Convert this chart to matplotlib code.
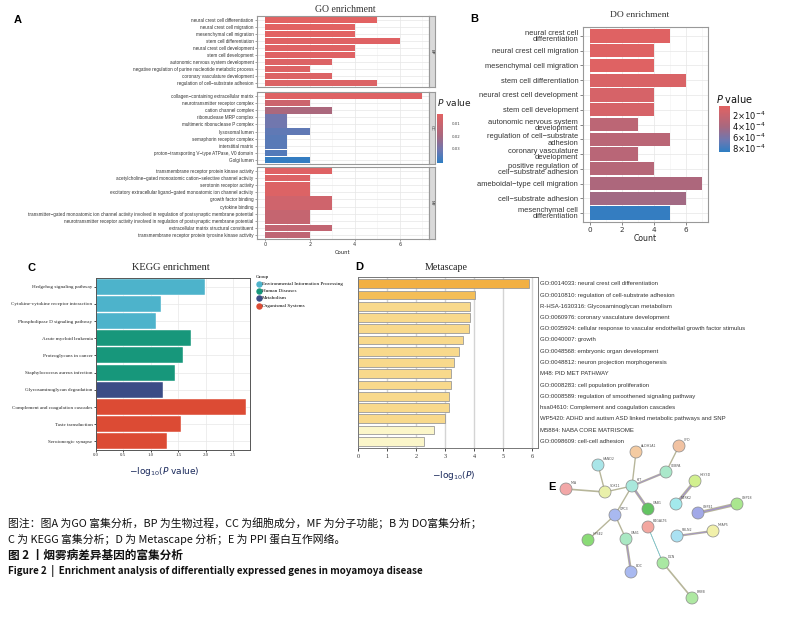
import numpy as np
import matplotlib
matplotlib.use("Agg")
import matplotlib.pyplot as plt
from matplotlib.colors import LinearSegmentedColormap, Normalize
from matplotlib.cm import ScalarMappable

# ---------------- data ----------------
go_bp_terms = ["neural crest cell differentiation", "neural crest cell migration",
               "mesenchymal cell migration", "stem cell differentiation",
               "neural crest cell development", "stem cell development",
               "autonomic nervous system development",
               "negative regulation of purine nucleotide metabolic process",
               "coronary vasculature development", "regulation of cell\u2212substrate adhesion"]
go_bp_count = [5, 4, 4, 6, 4, 4, 3, 2, 3, 5]
go_bp_p = [0.002, 0.002, 0.002, 0.003, 0.003, 0.003, 0.004, 0.004, 0.004, 0.004]

go_cc_terms = ["collagen\u2212containing extracellular matrix", "neurotransmitter receptor complex",
               "cation channel complex", "ribonuclease MRP complex",
               "multimeric ribonuclease P complex", "lysosomal lumen",
               "semaphorin receptor complex", "interstitial matrix",
               "proton\u2212transporting V\u2212type ATPase, V0 domain", "Golgi lumen"]
go_cc_count = [7, 2, 3, 1, 1, 2, 1, 1, 1, 2]
go_cc_p = [0.003, 0.009, 0.019, 0.031, 0.031, 0.034, 0.035, 0.035, 0.036, 0.041]

go_mf_terms = ["transmembrane receptor protein kinase activity",
               "acetylcholine\u2212gated monoatomic cation\u2212selective channel activity",
               "serotonin receptor activity",
               "excitatory extracellular ligand\u2212gated monoatomic ion channel activity",
               "growth factor binding", "cytokine binding",
               "transmitter\u2212gated monoatomic ion channel activity involved in regulation of postsynaptic membrane potential",
               "neurotransmitter receptor activity involved in regulation of postsynaptic membrane potential",
               "extracellular matrix structural constituent",
               "transmembrane receptor protein tyrosine kinase activity"]
go_mf_count = [3, 2, 2, 2, 3, 3, 2, 2, 3, 2]
go_mf_p = [0.003, 0.004, 0.004, 0.004, 0.008, 0.008, 0.011, 0.011, 0.012, 0.013]

do_terms = ["neural crest cell\ndifferentiation", "neural crest cell migration",
            "mesenchymal cell migration", "stem cell differentiation",
            "neural crest cell development", "stem cell development",
            "autonomic nervous system\ndevelopment", "regulation of cell\u2212substrate\nadhesion",
            "coronary vasculature\ndevelopment", "positive regulation of\ncell\u2212substrate adhesion",
            "ameboidal\u2212type cell migration", "cell\u2212substrate adhesion",
            "mesenchymal cell\ndifferentiation"]
do_count = [5, 4, 4, 6, 4, 4, 3, 5, 3, 4, 7, 6, 5]
do_p = [0.6e-4, 0.6e-4, 0.6e-4, 1.0e-4, 1.2e-4, 1.2e-4, 2.9e-4, 3.0e-4, 3.1e-4, 3.3e-4,
        3.8e-4, 4.4e-4, 8.5e-4]

kegg_terms = ["Hedgehog signaling pathway", "Cytokine-cytokine receptor interaction",
              "Phospholipase D signaling pathway", "Acute myeloid leukemia",
              "Proteoglycans in cancer", "Staphylococcus aureus infection",
              "Glycosaminoglycan degradation", "Complement and coagulation cascades",
              "Taste transduction", "Serotonergic synapse"]
kegg_value = [1.98, 1.19, 1.10, 1.73, 1.59, 1.44, 1.23, 2.73, 1.55, 1.30]
kegg_group = ["Environmental Information Processing"] * 3 + ["Human Diseases"] * 3 + \
             ["Metabolism"] + ["Organismal Systems"] * 3
kegg_groups = ["Environmental Information Processing", "Human Diseases", "Metabolism",
               "Organismal Systems"]
kegg_colors = ["#4DB3CB", "#17977B", "#3B4C86", "#DC4B34"]

meta_terms = ["GO:0014033: neural crest cell differentiation",
              "GO:0010810: regulation of cell-substrate adhesion",
              "R-HSA-1630316: Glycosaminoglycan metabolism",
              "GO:0060976: coronary vasculature development",
              "GO:0035924: cellular response to vascular endothelial growth factor stimulus",
              "GO:0040007: growth",
              "GO:0048568: embryonic organ development",
              "GO:0048812: neuron projection morphogenesis",
              "M48: PID MET PATHWAY",
              "GO:0008283: cell population proliferation",
              "GO:0008589: regulation of smoothened signaling pathway",
              "hsa04610: Complement and coagulation cascades",
              "WP5420: ADHD and autism ASD linked metabolic pathways and SNP",
              "M5884: NABA CORE MATRISOME",
              "GO:0098609: cell-cell adhesion"]
meta_value = [5.90, 4.02, 3.87, 3.87, 3.84, 3.62, 3.49, 3.31, 3.22, 3.21, 3.13, 3.12, 3.01,
              2.61, 2.29]
meta_colors = ["#F2B043", "#F4BE57"] + ["#F8D98C"] * 11 + ["#FBF6C9"] * 2

ppi_nodes = ["MIA", "HAND2", "SOX11", "KIT", "ALDH1A1", "CFD", "CEBPA", "GAB1", "GPC3",
             "HPSE2", "GAS1", "BOC", "B4GALT6", "DCN", "ERBB", "HEY3D", "NTRK2", "USP41",
             "USP18", "FBLN2", "MFAP5"]
ppi_x = [566, 598, 605, 632, 636, 679, 666, 648, 615, 588, 626, 631, 648, 663, 692, 695,
         676, 698, 737, 677, 713]
ppi_y = [489, 465, 492, 486, 452, 446, 472, 509, 515, 540, 539, 572, 527, 563, 598, 481,
         504, 513, 504, 536, 531]
ppi_colors = ["#F2A7A7", "#A9E5E8", "#E9F0AA", "#A9E8DC", "#F4CBA2", "#F1C2A2", "#AAE8CA",
              "#63C462", "#A9B9F0", "#8ADB76", "#AAE8C3", "#A9B9F0", "#F3A7A0", "#A9E8A2",
              "#AEE8A2", "#D2F08F", "#A3E9EC", "#A2A9E8", "#AAE78F", "#AAE1F2", "#F1F0AA"]
ppi_edges = [("MIA", "SOX11", 1.2), ("HAND2", "SOX11", 1.0), ("SOX11", "KIT", 1.0),
             ("ALDH1A1", "KIT", 1.0), ("KIT", "CEBPA", 1.6), ("CEBPA", "CFD", 1.0),
             ("KIT", "GAB1", 2.0), ("KIT", "GPC3", 1.0), ("GPC3", "HPSE2", 1.0),
             ("GPC3", "GAS1", 1.0), ("GAS1", "BOC", 1.8), ("B4GALT6", "DCN", 0.5),
             ("DCN", "ERBB", 1.2), ("HEY3D", "NTRK2", 2.2), ("USP41", "USP18", 2.4),
             ("FBLN2", "MFAP5", 1.6)]

# ---------------- figure ----------------
W, H = 791, 617
fig = plt.figure(figsize=(W / 100, H / 100), dpi=100)
fig.patch.set_facecolor("white")
cjk = ["Noto Sans CJK SC", "DejaVu Sans"]


def px_axes(x0, y0, x1, y1):
    return fig.add_axes([x0 / W, 1 - y1 / H, (x1 - x0) / W, (y1 - y0) / H])


def ftext(x, y, s, **kw):
    return fig.text(x / W, 1 - y / H, s, **kw)


pcmap = LinearSegmentedColormap.from_list(
    "pv", [(0, "#E26262"), (0.45, "#A8687F"), (0.75, "#6C78B2"), (1, "#2E7EC3")])

# ---------------- A: GO ----------------
go_norm = Normalize(0.002, 0.042)
facets = [("BP", go_bp_terms, go_bp_count, go_bp_p, 16, 87),
          ("CC", go_cc_terms, go_cc_count, go_cc_p, 92, 164),
          ("MF", go_mf_terms, go_mf_count, go_mf_p, 167, 239)]
for name, terms, counts, pvals, y0, y1 in facets:
    ax = px_axes(257, y0, 429, y1)
    ypos = np.arange(len(terms))[::-1]
    ax.barh(ypos, counts, height=0.9, color=pcmap(go_norm(pvals)), zorder=2)
    ax.set_xlim(-0.35, 7.3)
    ax.set_ylim(-0.6, len(terms) - 0.4)
    ax.set_yticks(ypos)
    ax.set_yticklabels(terms, fontsize=3.3, family="Liberation Sans", color="#333333")
    ax.set_xticks([0, 2, 4, 6])
    ax.set_xticks([1, 3, 5, 7], minor=True)
    ax.grid(True, which="major", color="#E6E6E6", lw=0.5)
    ax.grid(True, which="minor", axis="x", color="#F2F2F2", lw=0.4)
    ax.set_axisbelow(True)
    ax.tick_params(length=1.5, width=0.4, color="#555555", pad=1)
    ax.tick_params(which="minor", length=0)
    for s in ax.spines.values():
        s.set_color("#999999")
        s.set_linewidth(0.8)
    if name == "MF":
        ax.set_xticklabels(["0", "2", "4", "6"], fontsize=3.5, color="#333333")
        ax.set_xlabel("Count", fontsize=3.8, labelpad=2, color="#222222")
    else:
        ax.set_xticklabels([])
        ax.tick_params(axis="x", length=0)
    sax = px_axes(429, y0, 435, y1)
    sax.set_facecolor("#D9D9D9")
    sax.set_xticks([])
    sax.set_yticks([])
    for s in sax.spines.values():
        s.set_color("#999999")
        s.set_linewidth(0.8)
    sax.text(0.5, 0.5, name, rotation=-90, fontsize=3.0, ha="center", va="center",
             color="#333333", transform=sax.transAxes)

ftext(345, 9, "GO enrichment", fontsize=7, family="Liberation Serif", ha="center",
      va="center", color="#333333")
cax = px_axes(437, 114, 443, 163)
cb = fig.colorbar(ScalarMappable(norm=go_norm, cmap=pcmap), cax=cax)
cb.outline.set_visible(False)
cax.invert_yaxis()
cb.set_ticks([0.01, 0.02, 0.03])
cb.set_ticklabels(["0.01", "0.02", "0.03"])
cax.tick_params(labelsize=2.8, length=0, pad=6, colors="#444444")
ftext(437, 103, r"$P$ value", fontsize=6.5, va="center", color="#222222")

# ---------------- B: DO ----------------
do_norm = Normalize(0.43e-4, 8.7e-4)
ax = px_axes(583, 27, 708, 222)
ypos = np.arange(len(do_terms))[::-1]
ax.barh(ypos, do_count, height=0.9, color=pcmap(do_norm(do_p)), zorder=2)
ax.set_xlim(-0.44, 7.37)
ax.set_ylim(-0.6, len(do_terms) - 0.4)
ax.set_yticks(ypos)
ax.set_yticklabels(do_terms, fontsize=5.4, family="Liberation Sans", color="#333333",
                   linespacing=0.85)
ax.set_xticks([0, 2, 4, 6])
ax.set_xticks([1, 3, 5, 7], minor=True)
ax.set_xticklabels(["0", "2", "4", "6"], fontsize=5.2, color="#333333")
ax.grid(True, which="major", color="#E6E6E6", lw=0.5)
ax.grid(True, which="minor", axis="x", color="#F2F2F2", lw=0.4)
ax.set_axisbelow(True)
ax.tick_params(length=2, width=0.5, color="#555555", pad=1.5)
ax.tick_params(which="minor", length=0)
for s in ax.spines.values():
    s.set_color("#999999")
    s.set_linewidth(0.8)
ax.set_xlabel("Count", fontsize=5.6, labelpad=1, color="#222222")
ftext(640, 15, "DO enrichment", fontsize=6.8, family="Liberation Serif", ha="center",
      va="center", color="#333333")
cax = px_axes(719, 106, 730, 152)
cb = fig.colorbar(ScalarMappable(norm=do_norm, cmap=pcmap), cax=cax)
cb.outline.set_visible(False)
cax.invert_yaxis()
cb.set_ticks([2e-4, 4e-4, 6e-4, 8e-4])
cb.set_ticklabels([r"2$\times$10$^{-4}$", r"4$\times$10$^{-4}$", r"6$\times$10$^{-4}$",
                   r"8$\times$10$^{-4}$"])
cax.tick_params(labelsize=6, length=0, pad=1.5, colors="#111111")
ftext(716, 99, r"$P$ value", fontsize=7, va="center", color="#111111")

# ---------------- C: KEGG ----------------
ax = px_axes(96, 278, 250, 450)
ypos = np.arange(len(kegg_terms))[::-1]
kcol = [kegg_colors[kegg_groups.index(g)] for g in kegg_group]
ax.barh(ypos, kegg_value, height=0.92, color=kcol, edgecolor="white", lw=0.3, zorder=2)
ax.set_xlim(0, 2.81)
ax.set_ylim(-0.5, len(kegg_terms) - 0.5)
ax.set_yticks(ypos)
ax.set_yticklabels(kegg_terms, fontsize=3.7, family="Liberation Serif", color="#222222")
ax.set_xticks([0, 0.5, 1.0, 1.5, 2.0, 2.5])
ax.set_xticklabels(["0.0", "0.5", "1.0", "1.5", "2.0", "2.5"], fontsize=3.5,
                   family="Liberation Serif", color="#333333")
ax.grid(True, color="#E8E8E8", lw=0.5)
ax.set_axisbelow(True)
ax.tick_params(length=1.5, width=0.5, pad=1)
for s in ax.spines.values():
    s.set_color("#555555")
    s.set_linewidth(0.7)
ftext(171, 268, "KEGG enrichment", fontsize=7.5, family="Liberation Serif", ha="center",
      va="center", color="#222222")
ftext(256, 277, "Group", fontsize=3.7, family="Liberation Serif", va="center")
for i, g in enumerate(kegg_groups):
    yy = 284 + i * 7.2
    fig.lines.append(plt.Line2D([258.5 / W], [1 - yy / H], marker="o", ms=3.6, lw=0,
                                color=kegg_colors[i], transform=fig.transFigure))
    ftext(262, yy, g, fontsize=3.7, family="Liberation Serif", va="center")
ftext(164, 472, r"$-$log$_{10}$($P$ value)", fontsize=6.5, ha="center", va="center",
      color="#1B2A5C")

# ---------------- D: Metascape ----------------
ax = px_axes(358, 277, 538, 448)
ypos = np.arange(len(meta_terms))[::-1]
ax.barh(ypos, meta_value, height=0.78, color=meta_colors, edgecolor="#9A9A9A", lw=0.6,
        zorder=2)
ax.set_xlim(0, 6.2)
ax.set_ylim(-0.6, len(meta_terms) - 0.4)
ax.set_yticks([])
ax.set_xticks(range(7))
ax.set_xticklabels([str(i) for i in range(7)], fontsize=4.5, family="Liberation Serif",
                   color="#333333")
ax.grid(True, axis="x", color="#D4D4D4", lw=1.0)
ax.set_axisbelow(True)
ax.tick_params(length=2, width=0.5, pad=2)
for s in ax.spines.values():
    s.set_color("#777777")
    s.set_linewidth(0.7)
for y, t in zip(ypos, meta_terms):
    ax.text(1.01, y, t, transform=ax.get_yaxis_transform(), fontsize=4.3,
            family="Liberation Sans", va="center", ha="left", color="#333333")
ftext(446, 267, "Metascape", fontsize=7.2, family="Liberation Serif", ha="center",
      va="center", color="#222222")
ftext(454, 475, r"$-$log$_{10}$($P$)", fontsize=6.5, ha="center", va="center",
      color="#1B2A5C")

# ---------------- E: PPI network ----------------
ax = px_axes(540, 430, 770, 612)
ax.set_xlim(540, 770)
ax.set_ylim(612, 430)
ax.axis("off")
for a, b, lw in ppi_edges:
    i, j = ppi_nodes.index(a), ppi_nodes.index(b)
    ax.plot([ppi_x[i], ppi_x[j]], [ppi_y[i], ppi_y[j]], color="#B7B69A", lw=lw, zorder=1)
    if lw > 1.5:
        ax.plot([ppi_x[i], ppi_x[j]], [ppi_y[i], ppi_y[j]], color="#A394C8", lw=lw * 0.4,
                zorder=1)
ax.plot([ppi_x[12], ppi_x[13]], [ppi_y[12], ppi_y[13]], color="#6CC6D6", lw=0.5, zorder=1)
ax.scatter(ppi_x, ppi_y, s=75, c=ppi_colors, edgecolors="#8A8A8A", linewidths=0.5, zorder=3)
for n, x, y in zip(ppi_nodes, ppi_x, ppi_y):
    ax.text(x + 5, y - 5, n, fontsize=2.3, color="#555555", zorder=4)

# ---------------- panel letters ----------------
for lab, x, y in [("A", 14, 20), ("B", 470, 19), ("C", 28, 268), ("D", 355, 267),
                  ("E", 548, 487)]:
    ftext(x, y, lab, fontsize=8, fontweight="bold", family="Liberation Sans", va="center")

# ---------------- caption ----------------
ftext(8, 523, "图注：图A 为GO 富集分析，BP 为生物过程，CC 为细胞成分，MF 为分子功能；B 为 DO富集分析；",
      fontsize=7.8, family=cjk, va="center", color="#111111")
ftext(8, 539, "C 为 KEGG 富集分析；D 为 Metascape 分析；E 为 PPI 蛋白互作网络。",
      fontsize=7.8, family=cjk, va="center", color="#111111")
ftext(8, 555, "图 2 丨烟雾病差异基因的富集分析", fontsize=8.4, family=cjk,
      fontweight="bold", va="center", color="#111111")
ftext(8, 571, "Figure 2  |  Enrichment analysis of differentially expressed genes in moyamoya disease",
      fontsize=7.1, family=cjk, fontweight="bold", va="center", color="#111111")

fig.savefig("out.png", dpi=100)
